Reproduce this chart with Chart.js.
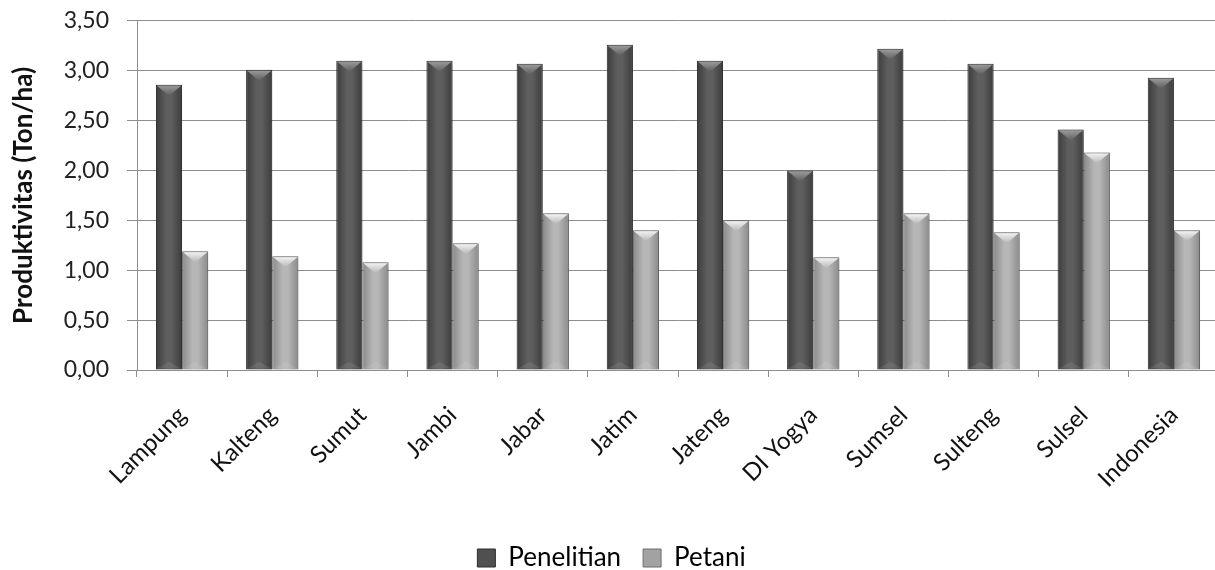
<!DOCTYPE html>
<html>
<head>
<meta charset="utf-8">
<script src="https://cdn.jsdelivr.net/npm/chart.js@4/dist/chart.umd.min.js"></script>
<style>
  html, body { margin: 0; padding: 0; background: #ffffff; overflow: hidden; }
  #wrap { position: relative; width: 1219px; height: 592px; margin-top: -11px; }
</style>
</head>
<body>
<div id="wrap"><canvas id="chart"></canvas></div>
<script>
// Provinces / regions on the category axis
const categories = ['Lampung', 'Kalteng', 'Sumut', 'Jambi', 'Jabar', 'Jatim', 'Jateng', 'DI Yogya', 'Sumsel', 'Sulteng', 'Sulsel', 'Indonesia'];
// Productivity (Ton/ha)
const penelitian = [2.86, 3.01, 3.10, 3.10, 3.07, 3.26, 3.10, 2.00, 3.22, 3.07, 2.41, 2.93];
const petani     = [1.19, 1.14, 1.08, 1.27, 1.57, 1.40, 1.50, 1.13, 1.57, 1.38, 2.18, 1.40];
const seriesNames = ['Penelitian', 'Petani'];
const yTicks = { min: 0, max: 3.5, step: 0.5 };

const FONT = 'Lato, "Open Sans", "DejaVu Sans", sans-serif';
const GRID = '#8e8e8e';
const CAT_PCT = 0.58;

// Colour sets for the two series: edge, centre, border, bevel highlight
const palette = [
  { edge: '#3c3c3c', mid: '#5e5e5e', border: '#2e2e2e', bevel: '#a8a8a8', legend: '#505050' },
  { edge: '#8a8a8a', mid: '#b6b6b6', border: '#6e6e6e', bevel: '#ffffff', legend: '#a2a2a2' }
];

// Horizontal shading across each bar, positioned from the category scale
function barFill(ctx, i) {
  const p = palette[i];
  const chart = ctx.chart;
  const xs = chart.scales && chart.scales.x;
  if (!xs || ctx.dataIndex === undefined) return p.mid;
  const cat = (xs.right - xs.left) / categories.length;
  const w = cat * CAT_PCT / 2;
  const cx = xs.getPixelForValue(ctx.dataIndex) + (i - 0.5) * w;
  const x0 = cx - w / 2, x1 = cx + w / 2;
  if (!isFinite(x0) || !isFinite(x1) || x1 <= x0) return p.mid;
  const g = chart.ctx.createLinearGradient(x0, 0, x1, 0);
  g.addColorStop(0, p.edge);
  g.addColorStop(0.4, p.mid);
  g.addColorStop(0.6, p.mid);
  g.addColorStop(1, p.edge);
  return g;
}

// Soft shadow under bars + bevelled top/bottom facets
const bevelPlugin = {
  id: 'bevel',
  beforeDatasetDraw(chart) {
    const c = chart.ctx;
    c.save();
    c.shadowColor = 'rgba(0,0,0,0.28)';
    c.shadowBlur = 6;
    c.shadowOffsetX = 2;
    c.shadowOffsetY = 1;
  },
  afterDatasetDraw(chart, args) {
    const c = chart.ctx;
    c.restore();
    const p = palette[args.index];
    args.meta.data.forEach(bar => {
      const w = bar.width;
      const left = bar.x - w / 2, right = bar.x + w / 2;
      const top = bar.y, bottom = bar.base;
      const h = Math.min(w * 0.42, (bottom - top) / 2);
      c.save();
      // top facet
      const g = c.createLinearGradient(0, top, 0, top + h);
      g.addColorStop(0, p.bevel);
      g.addColorStop(1, p.mid);
      c.beginPath();
      c.moveTo(left + 1, top + 1);
      c.lineTo(right - 1, top + 1);
      c.lineTo(bar.x, top + h);
      c.closePath();
      c.fillStyle = g;
      c.globalAlpha = 0.9;
      c.fill();
      // bottom facet
      c.beginPath();
      c.moveTo(left + 1, bottom - 1);
      c.lineTo(right - 1, bottom - 1);
      c.lineTo(bar.x, bottom - h * 0.7);
      c.closePath();
      c.fillStyle = 'rgba(255,255,255,0.10)';
      c.fill();
      c.restore();
    });
  }
};

const datasets = [penelitian, petani].map((values, i) => ({
  label: seriesNames[i],
  data: values,
  backgroundColor: ctx => barFill(ctx, i),
  borderColor: palette[i].border,
  borderWidth: 1,
  categoryPercentage: CAT_PCT,
  barPercentage: 1.0
}));

new Chart(document.getElementById('chart'), {
  type: 'bar',
  data: { labels: categories, datasets },
  plugins: [bevelPlugin],
  options: {
    responsive: true,
    maintainAspectRatio: false,
    animation: false,
    devicePixelRatio: 1,
    layout: { padding: { top: 0, right: 0, bottom: 0, left: 4 } },
    plugins: {
      tooltip: { enabled: false },
      legend: {
        position: 'bottom',
        labels: {
          font: { family: FONT, size: 26 },
          color: '#222',
          boxWidth: 18,
          boxHeight: 18,
          padding: 22,
          generateLabels: chart => chart.data.datasets.map((d, i) => ({
            text: d.label,
            fillStyle: palette[i].legend,
            strokeStyle: palette[i].border,
            lineWidth: 1,
            datasetIndex: i
          }))
        }
      }
    },
    scales: {
      x: {
        offset: true,
        afterFit: s => { s.height = 153; },
        grid: { display: true, drawOnChartArea: false, drawTicks: true, tickLength: 7, color: GRID, offset: true },
        border: { display: true, color: GRID, width: 1 },
        ticks: {
          font: { family: FONT, size: 24 },
          color: '#111',
          maxRotation: 45,
          minRotation: 45,
          autoSkip: false,
          padding: 24
        }
      },
      y: {
        min: yTicks.min,
        max: yTicks.max,
        afterFit: s => { s.width = 133; },
        grid: { color: GRID, lineWidth: 1, tickLength: 10, drawTicks: true },
        border: { display: true, color: GRID, width: 1 },
        ticks: {
          stepSize: yTicks.step,
          font: { family: FONT, size: 23 },
          color: '#222',
          padding: 18,
          callback: v => v.toFixed(2).replace('.', ',')
        },
        title: {
          display: true,
          text: 'Produktivitas (Ton/ha)',
          font: { family: FONT, size: 26, weight: 'bold' },
          color: '#111',
          padding: { top: 4, bottom: 10 }
        }
      }
    }
  }
});
</script>
</body>
</html>
